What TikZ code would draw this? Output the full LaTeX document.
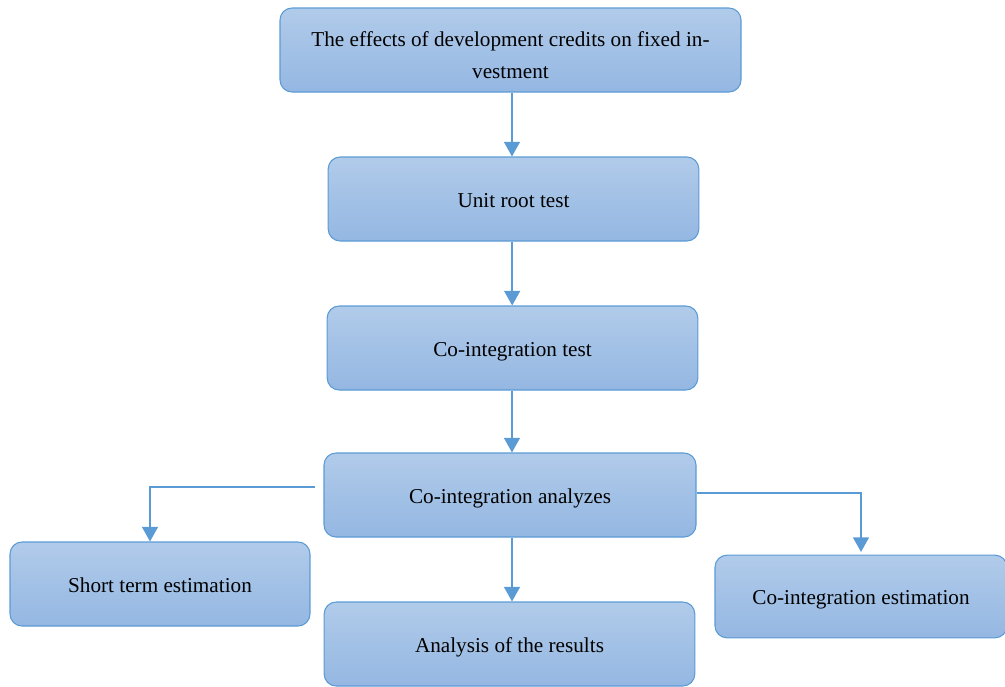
\documentclass[tikz,border=0pt]{standalone}
\usepackage{fontspec}
\setmainfont{Liberation Serif}
\usetikzlibrary{positioning,arrows.meta}
\definecolor{boxtop}{HTML}{B1CBEA}
\definecolor{boxbot}{HTML}{94B7E2}
\definecolor{boxline}{HTML}{5B9BD5}
\tikzset{stage/.style = {rectangle,rounded corners=9pt,draw=boxline,line width=0.8pt,
                         top color=boxtop,bottom color=boxbot,align=center,inner sep=0pt,
                         minimum width=278pt,minimum height=63pt,
                         text height=12.5pt,text depth=0pt,
                         font=\fontsize{15.9}{23.7}\selectfont},
         flow/.style = {draw=boxline,line width=1.2pt,-{Triangle[width=12pt,length=11pt]}}}

\begin{document}
\begin{tikzpicture}[x=0.75pt,y=-0.75pt]
                \useasboundingbox (0,0) rectangle (1005,686);
                % main chain
                \node [stage,minimum width=345.75pt,text height=42.4pt] (effects) at (510.5,50) {The effects of development credits on fixed in-\\vestment};
                \node [stage] (unitroot) at (513.5,199) {Unit root test};
                \node [stage] (cotest) at (512.5,348) {Co-integration test};
                \node [stage,minimum width=279pt] (analyzes) at (510,495) {Co-integration analyzes};
                % results row
                \node [stage,minimum width=225pt] (shortterm) at (160,584) {Short term estimation};
                \node [stage] (results) at (509.5,644) {Analysis of the results};
                \node [stage,minimum width=219pt,minimum height=62pt] (coestim) at (861,596.5) {Co-integration estimation};
                \coordinate (lstart) at (315,487);
                \coordinate (rstart) at (697,493);
                \draw [flow] ([xshift=1.1pt]effects.south) -- ([xshift=1.1pt]effects.south |- unitroot.north);
                \draw [flow] ([xshift=-1pt]unitroot.south) -- ([xshift=-1pt]unitroot.south |- cotest.north);
                \draw [flow] ([xshift=-0.4pt]cotest.south) -- ([xshift=-0.4pt]cotest.south |- analyzes.north);
                \draw [flow] ([xshift=1.5pt]analyzes.south) -- ([xshift=1.5pt]analyzes.south |- results.north);
                \draw [flow] (lstart) -| ([xshift=-7.5pt]shortterm.north);
                \draw [flow] (rstart) -| ([yshift=2pt]coestim.north);
            \end{tikzpicture}
\end{document}
